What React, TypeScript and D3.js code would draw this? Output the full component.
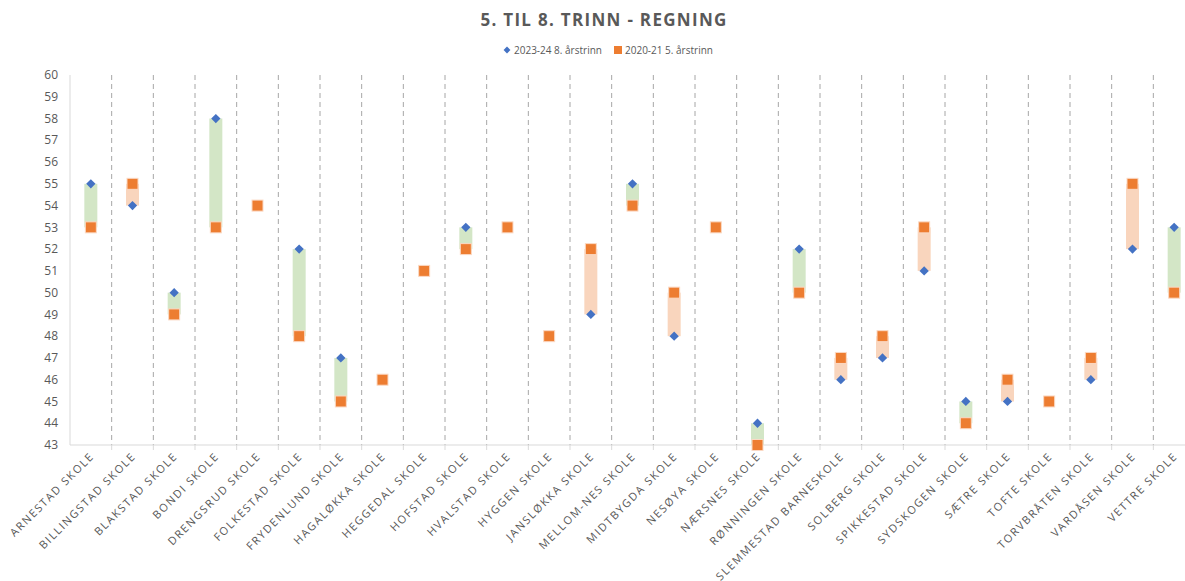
import * as d3 from "d3";

const schools = [
  "ARNESTAD SKOLE", "BILLINGSTAD SKOLE", "BLAKSTAD SKOLE", "BONDI SKOLE", "DRENGSRUD SKOLE",
  "FOLKESTAD SKOLE", "FRYDENLUND SKOLE", "HAGALØKKA SKOLE", "HEGGEDAL SKOLE", "HOFSTAD SKOLE",
  "HVALSTAD SKOLE", "HYGGEN SKOLE", "JANSLØKKA SKOLE", "MELLOM-NES SKOLE", "MIDTBYGDA SKOLE",
  "NESØYA SKOLE", "NÆRSNES SKOLE", "RØNNINGEN SKOLE", "SLEMMESTAD BARNESKOLE", "SOLBERG SKOLE",
  "SPIKKESTAD SKOLE", "SYDSKOGEN SKOLE", "SÆTRE SKOLE", "TOFTE SKOLE", "TORVBRÅTEN SKOLE",
  "VARDÅSEN SKOLE", "VETTRE SKOLE",
];

// 2023-24 8. årstrinn
const grade8: (number | null)[] = [
  55, 54, 50, 58, null, 52, 47, null, null, 53, null, null, 49, 55, 48,
  null, 44, 52, 46, 47, 51, 45, 45, null, 46, 52, 53,
];

// 2020-21 5. årstrinn
const grade5: number[] = [
  53, 55, 49, 53, 54, 48, 45, 46, 51, 52, 53, 48, 52, 54, 50,
  53, 43, 50, 47, 48, 53, 44, 46, 45, 47, 55, 50,
];

const yTicks = d3.range(43, 61);

const W = 1185;
const H = 581;
const left = 70;
const right = 1195;
const top = 75;
const bottom = 445;

const blue = "#4472c4";
const orange = "#ed7d31";
const green = "#d3e6c6";
const peach = "#f9d5bd";
const textColor = "#595959";
const font = "'Open Sans', 'Liberation Sans', sans-serif";

export default function App() {
  const x = d3.scaleBand<string>().domain(schools).range([left, right]);
  const y = d3.scaleLinear().domain([43, 60]).range([bottom, top]);
  const bw = x.bandwidth();
  const barW = 13;

  return (
    <svg
      width={W}
      height={H}
      style={{ position: "fixed", left: 0, top: 0, background: "#fff" }}
      fontFamily={font}
    >
      <text
        x={604}
        y={26}
        textAnchor="middle"
        fontSize={17}
        fontWeight="bold"
        letterSpacing={1.3}
        fill={textColor}
      >
        5. TIL 8. TRINN - REGNING
      </text>

      {/* legend */}
      <g fontSize={10} fill={textColor}>
        <path d={d3.symbol(d3.symbolDiamond2, 30)()!} transform="translate(507,50)" fill={blue} />
        <text x={514} y={53.5}>2023-24 8. årstrinn</text>
        <rect x={614} y={46} width={8} height={8} fill={orange} />
        <text x={625} y={53.5}>2020-21 5. årstrinn</text>
      </g>

      {/* y axis */}
      <line x1={left} x2={left} y1={top} y2={bottom} stroke="#d9d9d9" />
      {yTicks.map((t) => (
        <text
          key={t}
          x={58}
          y={y(t)}
          dy="0.35em"
          textAnchor="end"
          fontSize={12}
          fill={textColor}
        >
          {t}
        </text>
      ))}

      {/* dividers */}
      {schools.slice(1).map((s) => (
        <g key={s}>
          <line
            x1={x(s)!}
            x2={x(s)!}
            y1={top}
            y2={bottom}
            stroke="#a6a6a6"
            strokeDasharray="5,4"
          />
          <line x1={x(s)!} x2={x(s)!} y1={bottom} y2={bottom + 5} stroke="#d9d9d9" />
        </g>
      ))}
      <line x1={left} x2={right} y1={bottom} y2={bottom} stroke="#d9d9d9" />

      {/* bars */}
      {schools.map((s, i) => {
        const b = grade8[i];
        const o = grade5[i];
        if (b === null) return null;
        const cx = x(s)! + bw / 2;
        return (
          <rect
            key={s}
            x={cx - barW / 2}
            y={y(Math.max(b, o))}
            width={barW}
            height={Math.abs(y(b) - y(o))}
            fill={b > o ? green : peach}
          />
        );
      })}

      {/* markers */}
      {schools.map((s, i) => {
        const cx = x(s)! + bw / 2;
        const b = grade8[i];
        return (
          <g key={s}>
            <rect
              x={cx - 5.5}
              y={y(grade5[i]) - 5.5}
              width={11}
              height={11}
              fill={orange}
              stroke="#fbd9c4"
              strokeWidth={1}
            />
            {b !== null && (
              <path
                d={d3.symbol(d3.symbolDiamond2, 55)()!}
                transform={`translate(${cx},${y(b)})`}
                fill={blue}
              />
            )}
          </g>
        );
      })}

      {/* x labels */}
      {schools.map((s) => {
        const cx = x(s)! + bw / 2;
        return (
          <text
            key={s}
            transform={`translate(${cx + 4},${bottom + 12}) rotate(-45)`}
            textAnchor="end"
            fontSize={11}
            letterSpacing={1.6}
            fill={textColor}
          >
            {s}
          </text>
        );
      })}
    </svg>
  );
}
